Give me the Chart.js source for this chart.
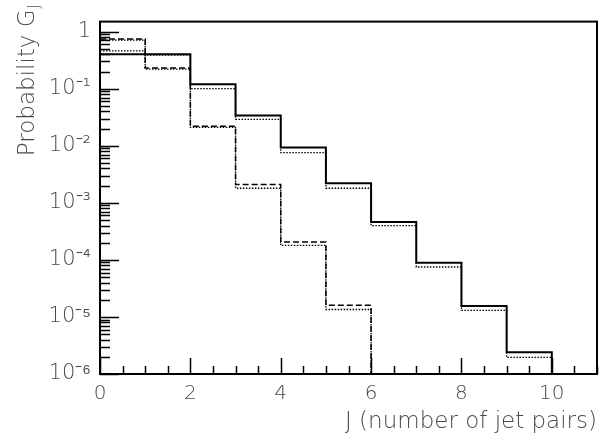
<!DOCTYPE html>
<html><head><meta charset="utf-8">
<script src="https://cdn.jsdelivr.net/npm/chart.js@4.4.0/dist/chart.umd.min.js"></script>
<style>html,body{margin:0;padding:0;background:#fff}#wrap{width:613px;height:445px}</style>
</head><body><div id="wrap"><canvas id="c" width="613" height="445"></canvas></div>
<script>
// ---- data ----
const binEdges = [0,1,2,3,4,5,6,7,8,9,10];
const solidValues   = [0.40, 0.40, 0.12, 0.034, 0.0093, 0.0022, 4.6e-4, 8.9e-5, 1.55e-5, 2.4e-6];
const dotted1Values = [0.46, 0.39, 0.10, 0.029, 0.0076, 0.0018, 4.0e-4, 7.5e-5, 1.3e-5, 1.95e-6];
const dashedValues  = [0.74, 0.23, 0.022, 0.0021, 2.05e-4, 1.6e-5];
const dotted2Values = [0.71, 0.22, 0.021, 0.0018, 1.8e-4, 1.35e-5];
const yTickValues = [1e-6, 1e-5, 1e-4, 1e-3, 1e-2, 1e-1, 1];
const yTickLabels = ['10\u207B\u2076','10\u207B\u2075','10\u207B\u2074','10\u207B\u00B3','10\u207B\u00B2','10\u207B\u00B9','1'];
const xTickValues = [0, 2, 4, 6, 8, 10];
const xTitle = 'J (number of jet pairs)';
const yTitleMain = 'Probability G';
const yTitleSub = 'J';

const Y_MIN = 1e-6, Y_MAX = 1.5, X_MIN = 0, X_MAX = 11;
const FONT = '"DejaVu Sans", sans-serif';
const FW = '200';
const TXT = '#4a4a4a';

function steps(vals){
  const pts = vals.map((v,i)=>({x:binEdges[i], y:v}));
  pts.push({x:binEdges[vals.length], y:Y_MIN});
  return pts;
}

const framePlugin = {
  id:'frame',
  afterDatasetsDraw(chart){
    const {ctx, chartArea:a, scales:{x,y}} = chart;
    ctx.save();
    ctx.strokeStyle = '#000';
    ctx.lineWidth = 1.5;
    ctx.beginPath();
    for (let v = X_MIN; v <= X_MAX + 1e-9; v += 0.5) {
      const px = Math.round(x.getPixelForValue(v)) + 0.5;
      const len = (Math.abs(v/2 - Math.round(v/2)) < 1e-9) ? 16 : 8;
      ctx.moveTo(px, a.bottom); ctx.lineTo(px, a.bottom - len);
    }
    for (let e = -6; e <= 0; e++) {
      for (let k = 1; k <= 9; k++) {
        const v = k * Math.pow(10, e);
        if (v < Y_MIN || v > Y_MAX) continue;
        const py = Math.round(y.getPixelForValue(v)) + 0.5;
        const len = k === 1 ? 19 : 10;
        ctx.moveTo(a.left, py); ctx.lineTo(a.left + len, py);
      }
    }
    ctx.stroke();
    ctx.lineWidth = 2;
    ctx.strokeRect(a.left, a.top, a.right - a.left, a.bottom - a.top);
    // y title with subscript
    ctx.fillStyle = TXT;
    ctx.font = FW + ' 23px ' + FONT;
    const w1 = ctx.measureText(yTitleMain).width;
    ctx.font = FW + ' 15px ' + FONT;
    const w2 = ctx.measureText(yTitleSub).width;
    const endY = 4;
    const cx = 34;
    ctx.translate(cx, endY + w1 + w2 + 1);
    ctx.rotate(-Math.PI/2);
    ctx.textBaseline = 'alphabetic';
    ctx.textAlign = 'left';
    ctx.font = FW + ' 23px ' + FONT;
    ctx.fillText(yTitleMain, 0, 0);
    ctx.font = FW + ' 15px ' + FONT;
    ctx.fillText(yTitleSub, w1 + 1, 5);
    ctx.restore();
  }
};

new Chart(document.getElementById('c'), {
  type:'line',
  data:{
    datasets:[
      {label:'solid', data:steps(solidValues), stepped:'before', borderColor:'#000', borderWidth:2, pointRadius:0, fill:false},
      {label:'dashed', data:steps(dashedValues), stepped:'before', borderColor:'#000', borderWidth:1.5, borderDash:[6,3], pointRadius:0, fill:false},
      {label:'dotted', data:steps(dotted1Values), stepped:'before', borderColor:'#000', borderWidth:1.3, borderDash:[1.5,1.5], pointRadius:0, fill:false},
      {label:'dotted2', data:steps(dotted2Values), stepped:'before', borderColor:'#000', borderWidth:1.3, borderDash:[1.5,1.5], pointRadius:0, fill:false}
    ]
  },
  options:{
    responsive:false, animation:false, devicePixelRatio:1,
    layout:{padding:{top:4, right:16, left:0, bottom:0}},
    plugins:{legend:{display:false}, tooltip:{enabled:false}},
    scales:{
      x:{
        type:'linear', min:X_MIN, max:X_MAX,
        afterBuildTicks(s){ s.ticks = xTickValues.map(v=>({value:v})); },
        afterFit(s){ s.height = 71; },
        grid:{display:false, drawTicks:false}, border:{display:false},
        ticks:{font:{family:FONT, size:20, weight:FW}, color:TXT, padding:8, maxRotation:0, autoSkip:false},
        title:{display:true, text:xTitle, align:'end', font:{family:FONT, size:23, weight:FW}, color:TXT, padding:{top:0, bottom:9}}
      },
      y:{
        type:'logarithmic', min:Y_MIN, max:Y_MAX,
        afterBuildTicks(s){ s.ticks = yTickValues.map(v=>({value:v})); },
        afterFit(s){ s.width = 100; },
        grid:{display:false, drawTicks:false}, border:{display:false},
        ticks:{font:{family:FONT, size:21, weight:FW}, color:TXT, padding:9, autoSkip:false,
          callback(v){ const i = yTickValues.findIndex(t=>Math.abs(Math.log10(t)-Math.log10(v))<1e-6); return i>=0 ? yTickLabels[i] : ''; }}
      }
    }
  },
  plugins:[framePlugin]
});
</script></body></html>
